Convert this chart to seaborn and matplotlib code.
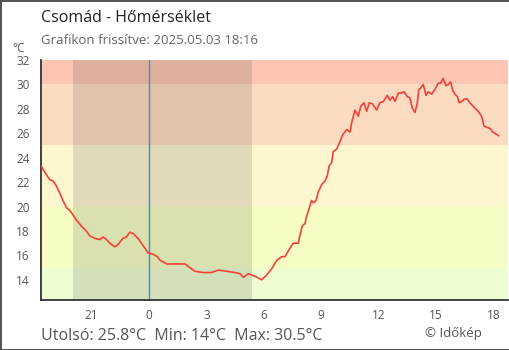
import matplotlib
matplotlib.use("Agg")
import matplotlib.pyplot as plt
import seaborn as sns
import pandas as pd

# hours relative to midnight (2025-05-03), negative = previous evening
hours = [-5.63, -5.45, -5.19, -5.02, -4.85, -4.67, -4.50, -4.32, -4.15, -3.97,
         -3.80, -3.54, -3.28, -3.10, -2.84, -2.58, -2.40, -2.23, -2.05, -1.79,
         -1.62, -1.36, -1.19, -1.01, -0.84, -0.58, -0.40, -0.22, -0.05, 0.21,
         0.43, 0.58, 0.93, 1.27, 1.88, 2.14, 2.40, 2.84, 3.28, 3.62,
         4.06, 4.50, 4.76, 4.93, 5.19, 5.54, 5.89, 6.15, 6.41, 6.68,
         6.94, 7.11, 7.37, 7.54, 7.80, 7.93, 8.01, 8.15, 8.24, 8.38,
         8.50, 8.59, 8.73, 8.85, 9.03, 9.20, 9.32, 9.41, 9.55, 9.63,
         9.81, 9.98, 10.13, 10.34, 10.51, 10.60, 10.77, 10.94, 11.07, 11.24,
         11.38, 11.52, 11.69, 11.90, 12.07, 12.25, 12.46, 12.60, 12.74, 12.86,
         13.04, 13.21, 13.33, 13.50, 13.64, 13.76, 13.90, 14.02, 14.11, 14.20,
         14.34, 14.48, 14.60, 14.78, 14.95, 15.12, 15.25, 15.38, 15.52, 15.65,
         15.77, 15.88, 16.00, 16.12, 16.22, 16.35, 16.48, 16.64, 16.78, 16.95,
         17.21, 17.39, 17.51, 17.65, 17.83, 17.97, 18.18, 18.28]
temps = [23.3, 22.8, 22.2, 22.1, 21.7, 21.1, 20.5, 19.9, 19.7, 19.3,
         18.9, 18.4, 18.0, 17.6, 17.4, 17.3, 17.5, 17.3, 17.0, 16.7,
         16.9, 17.4, 17.5, 17.9, 17.8, 17.4, 17.0, 16.6, 16.2, 16.1,
         15.9, 15.6, 15.3, 15.3, 15.3, 15.0, 14.7, 14.6, 14.6, 14.8,
         14.7, 14.6, 14.5, 14.2, 14.5, 14.3, 14.0, 14.4, 14.9, 15.6,
         15.9, 15.9, 16.6, 17.0, 17.0, 17.9, 18.4, 18.6, 19.2, 19.9,
         20.5, 20.3, 20.5, 21.2, 21.8, 22.1, 22.5, 23.3, 23.6, 24.5,
         24.7, 25.3, 25.9, 26.3, 26.1, 26.9, 27.9, 27.4, 28.2, 28.5,
         27.8, 28.5, 28.4, 27.9, 28.5, 28.6, 29.1, 28.7, 29.0, 28.6,
         29.3, 29.3, 29.4, 29.0, 28.9, 28.1, 27.7, 28.4, 29.6, 29.7,
         30.0, 29.1, 29.4, 29.2, 29.6, 30.1, 30.1, 30.5, 29.9, 30.0,
         30.2, 29.5, 29.2, 29.0, 28.5, 28.6, 28.8, 28.8, 28.5, 28.2,
         27.8, 27.4, 26.6, 26.5, 26.4, 26.1, 25.9, 25.8]

band_edges = [12.35, 15, 20, 25, 30, 32]
band_colors = ["#eefcd2", "#f6fcc4", "#fdf6cf", "#fcdcc0", "#fcc6b2"]
night_start, night_end = -3.97, 5.38
tick_pos = [-3, 0, 3, 6, 9, 12, 15, 18]
tick_labels = ["21", "0", "3", "6", "9", "12", "15", "18"]
y_ticks = [14, 16, 18, 20, 22, 24, 26, 28, 30, 32]

title = "Csomád - Hőmérséklet"
subtitle = "Grafikon frissítve: 2025.05.03 18:16"
footer = "Utolsó: 25.8°C  Min: 14°C  Max: 30.5°C"
credit = "© Időkép"

sns.set_style("white")
plt.rcParams["font.family"] = ["Open Sans", "DejaVu Sans"]

fig = plt.figure(figsize=(5.1, 3.5), dpi=100)
ax = fig.add_axes([41 / 510, 50 / 350, 467 / 510, 240 / 350])

for lo, hi, c in zip(band_edges[:-1], band_edges[1:], band_colors):
    ax.axhspan(lo, hi, color=c, lw=0, zorder=0)
ax.axvspan(night_start, night_end, color="black", alpha=0.11, lw=0, zorder=1)
ax.axvline(0, color="#3a8fd0", lw=1, zorder=2)

df = pd.DataFrame({"h": hours, "t": temps})
sns.lineplot(data=df, x="h", y="t", ax=ax, color="#f5413a", lw=1.2, zorder=3)

ax.set_xlim(-5.65, 18.77)
ax.set_ylim(12.35, 32)
ax.set_xticks(tick_pos)
ax.set_xticklabels(tick_labels)
ax.set_yticks(y_ticks)
ax.set_xlabel("")
ax.set_ylabel("")
ax.tick_params(axis="x", direction="in", length=5, width=1.2, color="#333",
               labelsize=8.5, labelcolor="#555", pad=6.5)
ax.tick_params(axis="y", direction="inout", length=10, width=1.2, color="#333",
               labelsize=8.5, labelcolor="#555", pad=3)
for s in ["top", "right"]:
    ax.spines[s].set_visible(False)
for s in ["left", "bottom"]:
    ax.spines[s].set_color("#333")
    ax.spines[s].set_linewidth(1.3)

fig.text(41 / 510, 1 - 18 / 350, title, fontsize=11.5, color="#222", va="center")
fig.text(41 / 510, 1 - 41 / 350, subtitle, fontsize=9.5, color="#666", va="center")
fig.text(12 / 510, 1 - 49 / 350, "°C", fontsize=8.5, color="#555", va="center")
fig.text(41 / 510, 1 - 340 / 350, footer, fontsize=11.5, color="#555", va="baseline")
fig.text(425 / 510, 1 - 337 / 350, credit, fontsize=9.5, color="#555", va="baseline")

fig.patch.set_edgecolor("#555")
fig.patch.set_linewidth(2)
fig.savefig("out.png", dpi=100, facecolor="white", edgecolor="#555")
